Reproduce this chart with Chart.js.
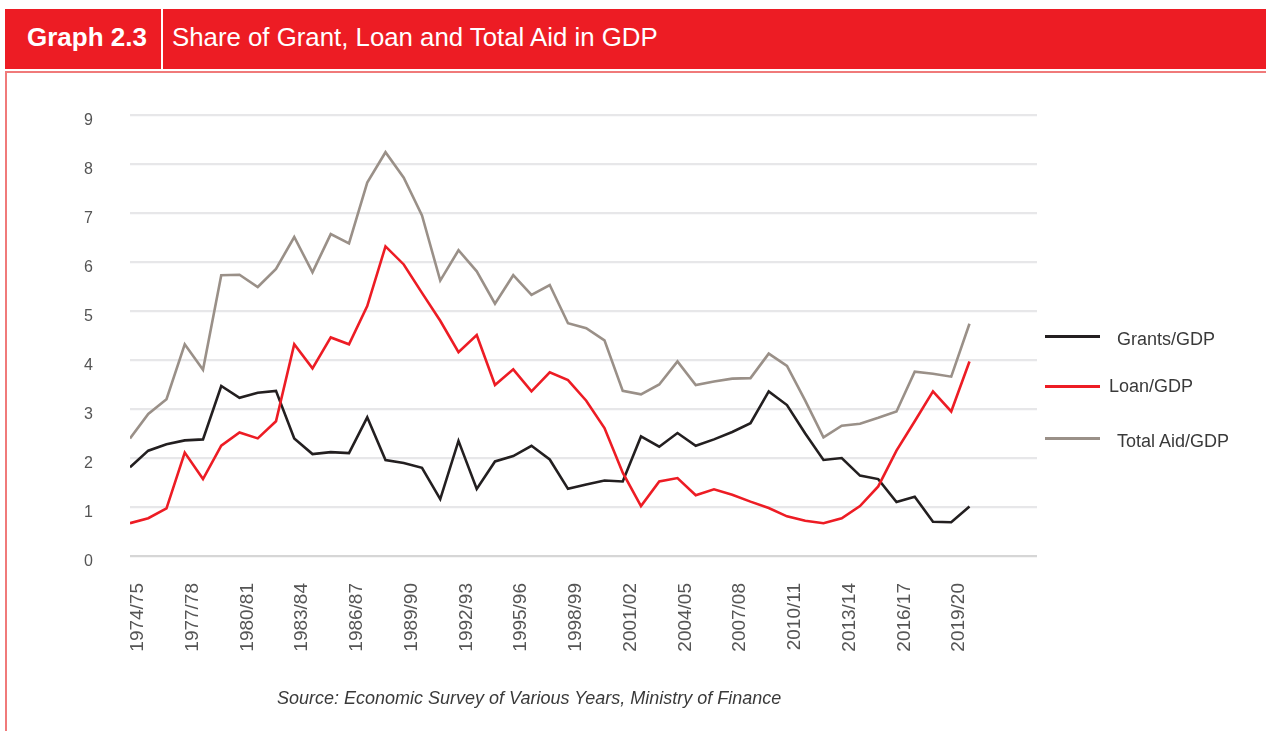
<!DOCTYPE html>
<html><head><meta charset="utf-8">
<script src="https://cdn.jsdelivr.net/npm/chart.js@4.4.1/dist/chart.umd.min.js"></script>
<style>
html,body{margin:0;padding:0;background:#fff}
body{width:1266px;height:731px;overflow:hidden;position:relative;font-family:"Liberation Sans",Arial,Helvetica,sans-serif}
#bar{position:absolute;left:5px;top:9px;width:1261px;height:60px;background:#ed1c24}
#sep{position:absolute;left:161px;top:9px;width:2px;height:60px;background:#fff}
#gnum{position:absolute;left:27px;top:9px;height:60px;line-height:56px;color:#fff;font-weight:bold;font-size:26px}
#gtitle{position:absolute;left:172px;top:9px;height:60px;line-height:56px;color:#fff;font-size:25.8px}
#frame{position:absolute;left:5px;top:71px;width:1280px;height:700px;border:2px solid #f07a7a;box-sizing:border-box}
#chartwrap{position:absolute;left:0;top:0;width:1266px;height:731px}
.lg{position:absolute;height:3px}
.lt{position:absolute;font-size:18px;color:#3a3a3a;line-height:20px}
#src{position:absolute;left:277px;top:688px;font-size:18px;font-style:italic;color:#3a3a3a}
</style></head>
<body>
<div id="bar"></div><div id="sep"></div>
<div id="gnum">Graph 2.3</div>
<div id="gtitle">Share of Grant, Loan and Total Aid in GDP</div>
<div id="frame"></div>
<div id="chartwrap"><canvas id="c" width="1266" height="731"></canvas></div>
<div class="lg" style="left:1045px;top:335px;width:55px;background:#231f20"></div>
<div class="lt" style="left:1117px;top:329px">Grants/GDP</div>
<div class="lg" style="left:1045px;top:385px;width:55px;background:#ed1c24"></div>
<div class="lt" style="left:1109px;top:376px">Loan/GDP</div>
<div class="lg" style="left:1045px;top:437px;width:55px;background:#9a9088"></div>
<div class="lt" style="left:1117px;top:431px">Total Aid/GDP</div>
<div id="src">Source: Economic Survey of Various Years, Ministry of Finance</div>
<script>
const years = ['1974/75','1975/76','1976/77','1977/78','1978/79','1979/80','1980/81','1981/82','1982/83','1983/84',
'1984/85','1985/86','1986/87','1987/88','1988/89','1989/90','1990/91','1991/92','1992/93','1993/94',
'1994/95','1995/96','1996/97','1997/98','1998/99','1999/00','2000/01','2001/02','2002/03','2003/04',
'2004/05','2005/06','2006/07','2007/08','2008/09','2009/10','2010/11','2011/12','2012/13','2013/14',
'2014/15','2015/16','2016/17','2017/18','2018/19','2019/20','2020/21'];
const grants = [1.81,2.15,2.28,2.36,2.38,3.47,3.23,3.33,3.37,2.40,2.08,2.12,2.10,2.83,1.96,1.90,1.80,1.16,2.35,1.37,
1.93,2.04,2.25,1.97,1.37,1.46,1.54,1.52,2.44,2.23,2.51,2.25,2.38,2.53,2.71,3.36,3.08,2.50,1.96,2.00,
1.64,1.57,1.10,1.21,0.70,0.69,1.01];
const loan = [0.67,0.77,0.97,2.11,1.57,2.25,2.52,2.40,2.75,4.32,3.83,4.46,4.32,5.10,6.32,5.95,5.37,4.80,4.16,4.51,
3.49,3.81,3.36,3.75,3.59,3.17,2.61,1.70,1.02,1.52,1.59,1.24,1.36,1.25,1.11,0.98,0.81,0.72,0.67,0.77,
1.02,1.42,2.15,2.75,3.36,2.95,3.97];
const totalAid = [2.40,2.90,3.20,4.32,3.80,5.73,5.74,5.49,5.86,6.51,5.79,6.57,6.38,7.62,8.24,7.72,6.95,5.62,6.24,5.81,
5.15,5.73,5.33,5.53,4.75,4.65,4.40,3.37,3.30,3.50,3.97,3.49,3.56,3.62,3.63,4.13,3.88,3.17,2.42,2.66,
2.70,2.82,2.95,3.76,3.72,3.66,4.74];
const yTicks = [0,1,2,3,4,5,6,7,8,9];

const pts = arr => arr.map((v,i)=>({x:i,y:v}));
const ds = (label, arr, color) => ({label, data: pts(arr), borderColor: color, backgroundColor: color,
  borderWidth: 2.6, pointRadius: 0, tension: 0, fill: false});

new Chart(document.getElementById('c'), {
  type: 'line',
  data: { datasets: [
    ds('Total Aid/GDP', totalAid, '#9a9088'),
    ds('Loan/GDP', loan, '#ed1c24'),
    ds('Grants/GDP', grants, '#231f20')
  ]},
  options: {
    responsive: false, animation: false,
    layout: { padding: { left: 60, right: 229, top: 115, bottom: 0 } },
    plugins: { legend: { display: false }, tooltip: { enabled: false } },
    scales: {
      x: {
        type: 'linear', min: 0, max: 49.7,
        border: { display: false },
        grid: { display: false, drawTicks: false },
        afterFit: s => { s.height = 175; },
        afterBuildTicks: s => { s.ticks = years.map((y,i)=>({value:i})).filter(t=>t.value%3===0); },
        ticks: { autoSkip: false, minRotation: 90, maxRotation: 90, padding: 27, labelOffset: 8,
          color: '#555555', font: { family: '"Liberation Sans", Arial, sans-serif', size: 19 },
          callback: v => years[v] || '' }
      },
      y: {
        min: 0, max: 9,
        border: { display: false },
        afterFit: s => { s.width = 70; },
        afterBuildTicks: s => { s.ticks = yTicks.map(v=>({value:v})); },
        grid: { drawTicks: false, lineWidth: 2.2,
          color: c => c.tick && c.tick.value === 0 ? '#d6d6d6' : '#e7e7e9' },
        ticks: { padding: 37, labelOffset: 6, color: '#555555',
          font: { family: '"Liberation Sans", Arial, sans-serif', size: 16 } }
      }
    }
  }
});
</script>
</body></html>
